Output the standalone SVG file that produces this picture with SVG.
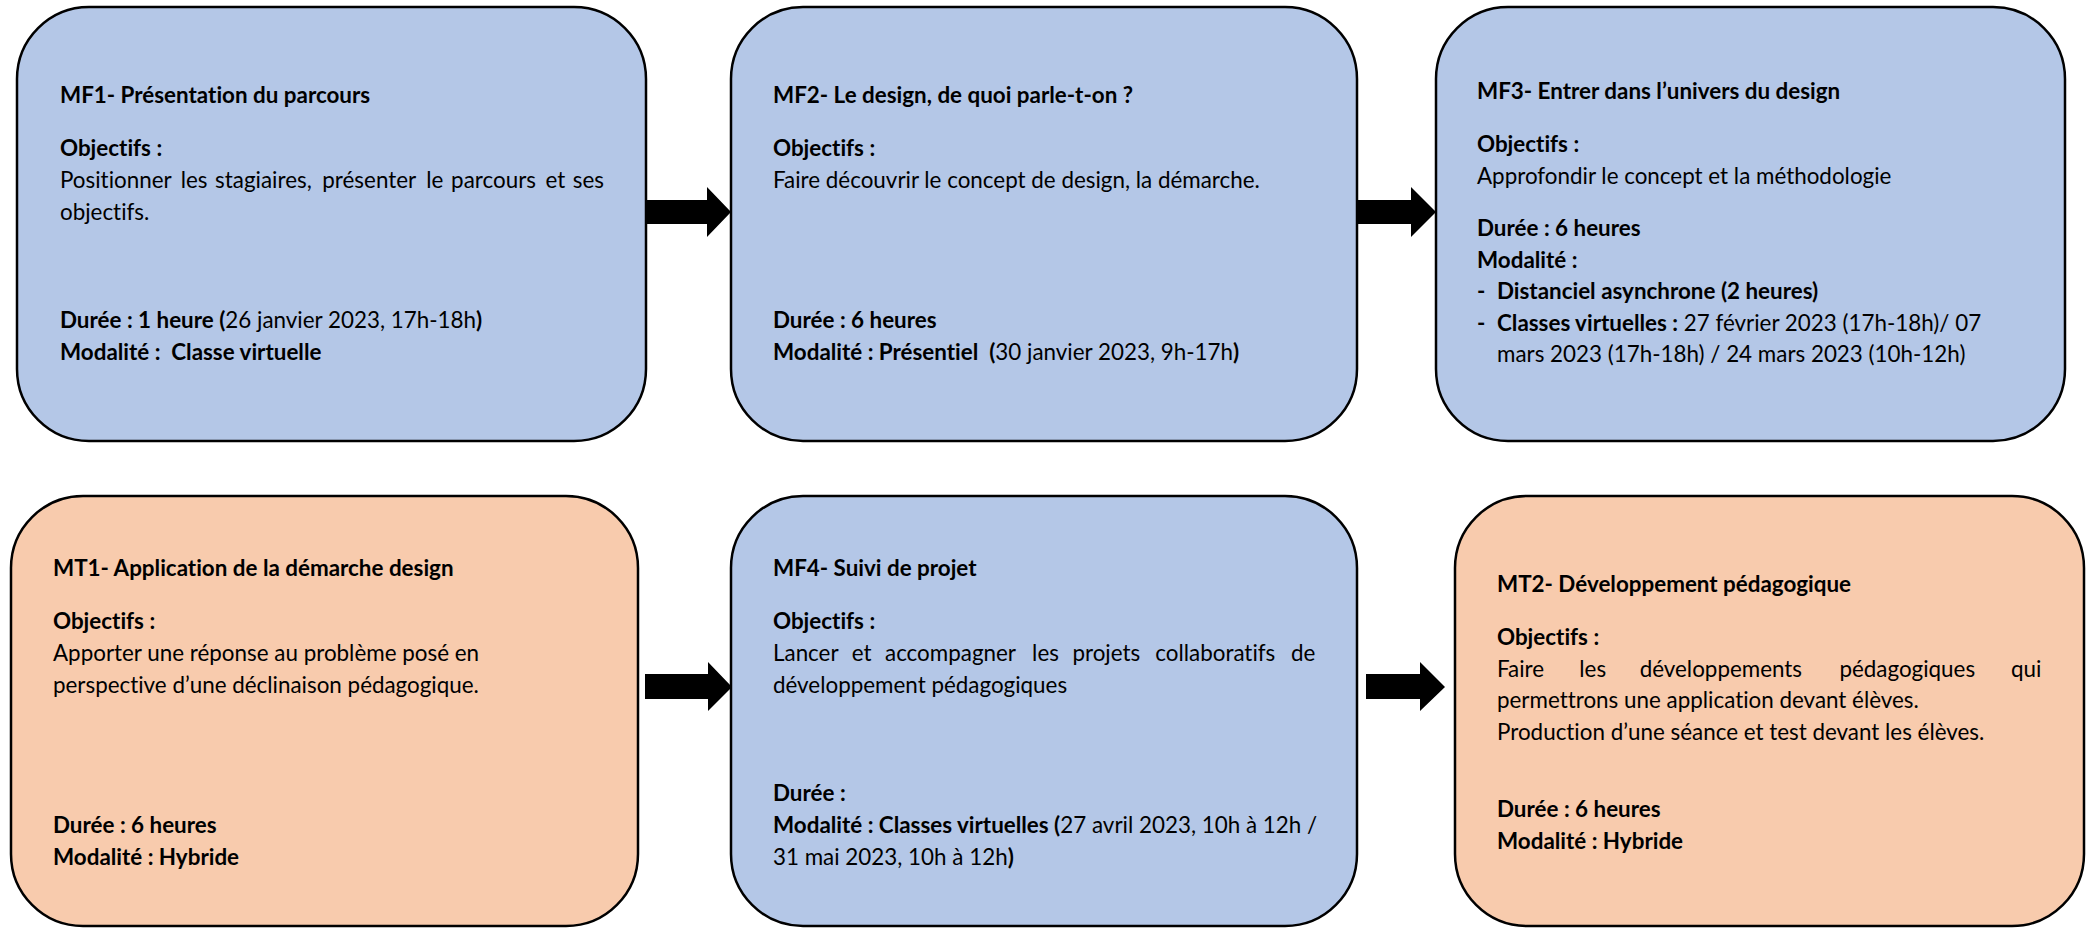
<svg xmlns="http://www.w3.org/2000/svg" width="2092" height="928" viewBox="0 0 2092 928">
<style>
.blue{fill:#B4C7E7;stroke:#000;stroke-width:2.5}
.orange{fill:#F8CBAD;stroke:#000;stroke-width:2.5}
text{font-family:Lato,"Liberation Sans",sans-serif;font-size:22.4px;fill:#000;font-variant-ligatures:none;font-feature-settings:"liga" 0,"clig" 0}
.b{font-weight:bold}
.arrow{fill:#000}
</style>
<rect width="2092" height="928" fill="#fff"/>
<g id="MF1">
<rect class="blue" x="17" y="7" width="629" height="434" rx="72" ry="72"/>
<text class="b" x="60" y="103">MF1- Présentation du parcours</text>
<text class="b" x="60" y="156">Objectifs :</text>
<text y="188"><tspan x="60">Positionner</tspan><tspan x="180.7">les</tspan><tspan x="215.1">stagiaires,</tspan><tspan x="322.3">présenter</tspan><tspan x="426.3">le</tspan><tspan x="451.1">parcours</tspan><tspan x="545.4">et</tspan><tspan x="572.8">ses</tspan></text>
<text x="60" y="220">objectifs.</text>
<text x="60" y="328" xml:space="preserve"><tspan class="b">Durée : 1 heure (</tspan>26 janvier 2023, 17h-18h<tspan class="b">)</tspan></text>
<text class="b" x="60" y="360" xml:space="preserve">Modalité :  Classe virtuelle</text>
</g>
<g id="MF2">
<rect class="blue" x="731" y="7" width="626" height="434" rx="72" ry="72"/>
<text class="b" x="773" y="103">MF2- Le design, de quoi parle-t-on ?</text>
<text class="b" x="773" y="156">Objectifs :</text>
<text x="773" y="188">Faire découvrir le concept de design, la démarche.</text>
<text class="b" x="773" y="328">Durée : 6 heures</text>
<text x="773" y="360" xml:space="preserve"><tspan class="b">Modalité : Présentiel  (</tspan>30 janvier 2023, 9h-17h<tspan class="b">)</tspan></text>
</g>
<g id="MF3">
<rect class="blue" x="1436" y="7" width="629" height="434" rx="72" ry="72"/>
<text class="b" x="1477" y="99">MF3- Entrer dans l’univers du design</text>
<text class="b" x="1477" y="152">Objectifs :</text>
<text x="1477" y="184">Approfondir le concept et la méthodologie</text>
<text class="b" x="1477" y="236">Durée : 6 heures</text>
<text class="b" x="1477" y="268">Modalité :</text>
<text class="b" x="1477" y="299">-</text>
<text class="b" x="1497" y="299">Distanciel asynchrone (2 heures)</text>
<text class="b" x="1477" y="331">-</text>
<text x="1497" y="331" xml:space="preserve"><tspan class="b">Classes virtuelles :</tspan> 27 février 2023 (17h-18h)/ 07</text>
<text x="1497" y="362">mars 2023 (17h-18h) / 24 mars 2023 (10h-12h)</text>
</g>
<g id="MT1">
<rect class="orange" x="11" y="496" width="627" height="430" rx="72" ry="72"/>
<text class="b" x="53" y="576">MT1- Application de la démarche design</text>
<text class="b" x="53" y="629">Objectifs :</text>
<text x="53" y="661">Apporter une réponse au problème posé en</text>
<text x="53" y="693">perspective d’une déclinaison pédagogique.</text>
<text class="b" x="53" y="833">Durée : 6 heures</text>
<text class="b" x="53" y="865">Modalité : Hybride</text>
</g>
<g id="MF4">
<rect class="blue" x="731" y="496" width="626" height="430" rx="72" ry="72"/>
<text class="b" x="773" y="576">MF4- Suivi de projet</text>
<text class="b" x="773" y="629">Objectifs :</text>
<text y="661"><tspan x="773">Lancer</tspan><tspan x="851.7">et</tspan><tspan x="885">accompagner</tspan><tspan x="1032.1">les</tspan><tspan x="1072.4">projets</tspan><tspan x="1155.3">collaboratifs</tspan><tspan x="1291">de</tspan></text>
<text x="773" y="693">développement pédagogiques</text>
<text class="b" x="773" y="801">Durée :</text>
<text x="773" y="833" xml:space="preserve"><tspan class="b">Modalité : Classes virtuelles (</tspan>27 avril 2023, 10h à 12h /</text>
<text x="773" y="865" xml:space="preserve">31 mai 2023, 10h à 12h<tspan class="b">)</tspan></text>
</g>
<g id="MT2">
<rect class="orange" x="1455" y="496" width="629" height="430" rx="72" ry="72"/>
<text class="b" x="1497" y="592">MT2- Développement pédagogique</text>
<text class="b" x="1497" y="645">Objectifs :</text>
<text y="677"><tspan x="1497">Faire</tspan><tspan x="1579.3">les</tspan><tspan x="1639.7">développements</tspan><tspan x="1839.4">pédagogiques</tspan><tspan x="2011">qui</tspan></text>
<text x="1497" y="708">permettrons une application devant élèves.</text>
<text x="1497" y="740">Production d’une séance et test devant les élèves.</text>
<text class="b" x="1497" y="817">Durée : 6 heures</text>
<text class="b" x="1497" y="849">Modalité : Hybride</text>
</g>
<g id="connectors">
<polygon class="arrow" points="646,200 707,200 707,187 731,212 707,237 707,224 646,224"/>
<polygon class="arrow" points="1357,200 1411,200 1411,187 1436,212 1411,237 1411,224 1357,224"/>
<polygon class="arrow" points="645,674 708,674 708,662 732,687 708,711 708,699 645,699"/>
<polygon class="arrow" points="1366,674 1420,674 1420,662 1445,687 1420,711 1420,699 1366,699"/>
</g>
</svg>
